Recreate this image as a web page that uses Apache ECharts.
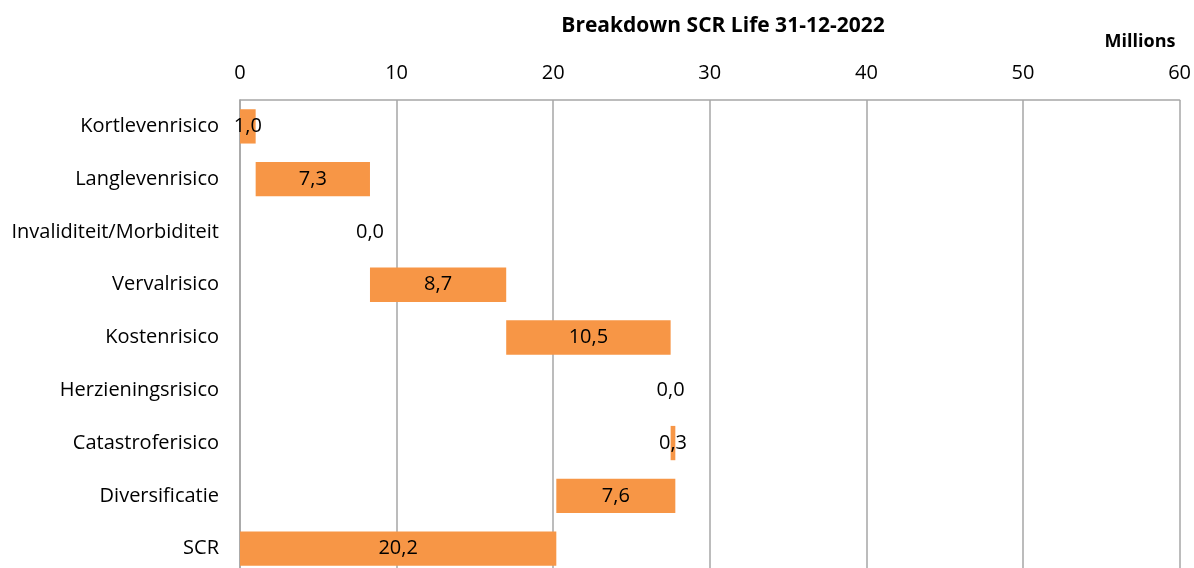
<!DOCTYPE html>
<html>
<head>
<meta charset="utf-8">
<script src="https://cdn.jsdelivr.net/npm/echarts@6/dist/echarts.min.js"></script>
<style>
  html, body { margin: 0; padding: 0; background: #fff; overflow: hidden; }
  /* iets hoger dan het venster: de onderste rij loopt in het origineel net van de rand */
  #root { width: 1194px; height: 580px; }
</style>
</head>
<body>
<div id="root"></div>
<script>
// waterfall: onzichtbare basis + zichtbaar stuk
const categories = ['Kortlevenrisico', 'Langlevenrisico', 'Invaliditeit/Morbiditeit', 'Vervalrisico',
    'Kostenrisico', 'Herzieningsrisico', 'Catastroferisico', 'Diversificatie', 'SCR'];
const baseValues = [0, 1.0, 8.3, 8.3, 17.0, 27.5, 27.5, 20.2, 0];
const riskValues = [1.0, 7.3, 0.0, 8.7, 10.5, 0.0, 0.3, 7.6, 20.2];
const xTicks = [0, 10, 20, 30, 40, 50, 60];

const FONT = 'Open Sans';
const BAR_COLOR = '#f79646';
const GRID_COLOR = '#a6a6a6';

let myChart = echarts.init(document.getElementById('root'));

let option = {
    animation: false,
    textStyle: { fontFamily: FONT, color: '#000' },
    title: [{
        text: 'Breakdown SCR Life 31-12-2022',
        left: 718,
        top: 11,
        textAlign: 'center',
        textStyle: { fontFamily: FONT, fontWeight: 'bold', fontSize: 21, color: '#000' }
    }, {
        text: 'Millions',
        left: 1135,
        top: 28,
        textAlign: 'center',
        textStyle: { fontFamily: FONT, fontWeight: 'bold', fontSize: 18, color: '#000' }
    }],
    grid: { left: 240, top: 100, width: 940, height: 475 },
    xAxis: {
        type: 'value',
        position: 'top',
        min: xTicks[0],
        max: xTicks[xTicks.length - 1],
        interval: 10,
        axisLine: { show: true, lineStyle: { color: GRID_COLOR, width: 1.5 } },
        axisTick: { show: false },
        axisLabel: { color: '#000', fontSize: 20, fontFamily: FONT, margin: 17 },
        splitLine: { show: true, lineStyle: { color: GRID_COLOR, width: 1.5 } }
    },
    yAxis: {
        type: 'category',
        inverse: true,
        data: categories,
        axisLine: { show: true, lineStyle: { color: GRID_COLOR, width: 1.5 } },
        axisTick: { show: false },
        axisLabel: { color: '#000', fontSize: 20, fontFamily: FONT, margin: 21 }
    },
    series: [{
        type: 'bar',
        stack: 'wf',
        data: baseValues,
        itemStyle: { color: 'transparent' },
        silent: true,
        barWidth: '65%'
    }, {
        type: 'bar',
        stack: 'wf',
        data: riskValues,
        itemStyle: { color: BAR_COLOR },
        barWidth: '65%',
        label: {
            show: true,
            position: 'inside',
            color: '#000',
            fontSize: 20,
            fontFamily: FONT,
            formatter: p => p.value.toFixed(1).replace('.', ',')
        }
    }]
};

myChart.setOption(option);
</script>
</body>
</html>
